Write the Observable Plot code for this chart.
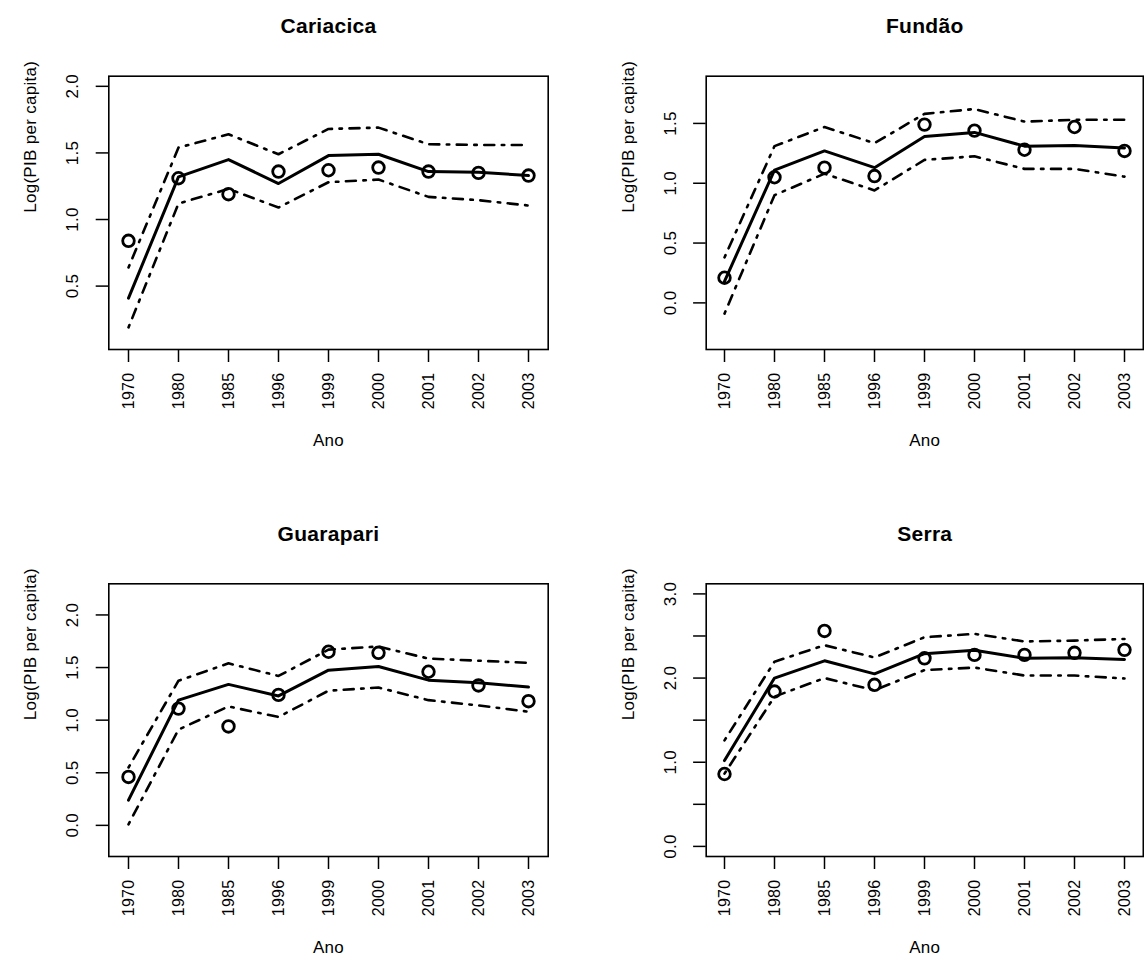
<!DOCTYPE html>
<html>
<head>
<meta charset="utf-8">
<script src="https://cdn.jsdelivr.net/npm/d3@7"></script>
<script src="https://cdn.jsdelivr.net/npm/@observablehq/plot@0.6"></script>
<style>
  html, body { margin: 0; padding: 0; background: white; }
  #chart { position: relative; width: 1144px; height: 966px; overflow: hidden; background: white; }
  #chart > svg { position: absolute; }
</style>
</head>
<body>
<div id="chart"></div>
<script>
// Survey years, drawn as equally spaced categories
const years = ["1970", "1980", "1985", "1996", "1999", "2000", "2001", "2002", "2003"];

// Cariacica: fitted values, upper/lower bands, observed log GDP per capita
const cariacicaFit   = [0.41, 1.32, 1.45, 1.27, 1.48, 1.49, 1.36, 1.355, 1.33];
const cariacicaUpper = [0.64, 1.54, 1.64, 1.49, 1.68, 1.69, 1.565, 1.56, 1.56];
const cariacicaLower = [0.19, 1.12, 1.23, 1.09, 1.28, 1.30, 1.17, 1.145, 1.105];
const cariacicaObs   = [0.84, 1.31, 1.19, 1.36, 1.37, 1.39, 1.36, 1.35, 1.33];

// Fundão
const fundaoFit   = [0.18, 1.11, 1.27, 1.13, 1.39, 1.425, 1.31, 1.315, 1.295];
const fundaoUpper = [0.38, 1.31, 1.47, 1.335, 1.58, 1.62, 1.515, 1.53, 1.53];
const fundaoLower = [-0.09, 0.90, 1.08, 0.94, 1.195, 1.225, 1.12, 1.12, 1.055];
const fundaoObs   = [0.21, 1.05, 1.13, 1.06, 1.49, 1.44, 1.28, 1.47, 1.27];

// Guarapari
const guarapariFit   = [0.24, 1.19, 1.34, 1.23, 1.475, 1.51, 1.38, 1.355, 1.315];
const guarapariUpper = [0.55, 1.375, 1.54, 1.42, 1.67, 1.70, 1.585, 1.565, 1.545];
const guarapariLower = [0.01, 0.91, 1.13, 1.03, 1.28, 1.31, 1.19, 1.14, 1.08];
const guarapariObs   = [0.46, 1.11, 0.94, 1.24, 1.65, 1.64, 1.46, 1.33, 1.18];

// Serra
const serraFit   = [1.02, 2.00, 2.205, 2.05, 2.29, 2.33, 2.235, 2.24, 2.22];
const serraUpper = [1.26, 2.195, 2.39, 2.245, 2.485, 2.525, 2.435, 2.445, 2.465];
const serraLower = [0.865, 1.78, 2.00, 1.855, 2.095, 2.125, 2.03, 2.03, 1.995];
const serraObs   = [0.86, 1.84, 2.56, 1.92, 2.235, 2.275, 2.275, 2.30, 2.335];

// Per-panel y limits, tick values and labelled tick values
const cariacicaYlim = [0.1, 2.0],     cariacicaTicks = [0.5, 1.0, 1.5, 2.0],  cariacicaLabels = [0.5, 1.0, 1.5, 2.0];
const fundaoYlim    = [-0.305, 1.81], fundaoTicks    = [0.0, 0.5, 1.0, 1.5],  fundaoLabels    = [0.0, 0.5, 1.0, 1.5];
const guarapariYlim = [-0.2, 2.2],    guarapariTicks = [0.0, 0.5, 1.0, 1.5, 2.0], guarapariLabels = [0.0, 0.5, 1.0, 1.5, 2.0];
const serraYlim     = [0.0, 3.0],     serraTicks     = [0.0, 0.5, 1.0, 1.5, 2.0, 2.5, 3.0], serraLabels = [0.0, 1.0, 2.0, 3.0];

const font = "'Liberation Sans', Arial, Helvetica, sans-serif";
const dotdash = "2.5,7.5,10,7.5";

function panel({title, fit, upper, lower, obs, ylim, ticks, labels, left, top, margins}) {
  const rows = years.map((year, i) => ({year, fit: fit[i], upper: upper[i], lower: lower[i], obs: obs[i]}));
  const ext = 0.04 * (ylim[1] - ylim[0]);
  const svg = Plot.plot({
    width: 572,
    height: 483,
    ...margins,
    style: {fontFamily: font, fontSize: "16px", background: "transparent", color: "black", overflow: "visible", letterSpacing: "0.3px"},
    x: {type: "point", domain: years, padding: 0.32},
    y: {domain: [ylim[0] - ext, ylim[1] + ext]},
    marks: [
      Plot.frame({stroke: "black", strokeWidth: 1.6}),
      Plot.axisX({
        ticks: years, tickSize: 13, tickPadding: 10, tickRotate: -90,
        textAnchor: "end", lineAnchor: "middle",
        strokeWidth: 1.5, fontSize: 16, label: null
      }),
      // tick marks on the y axis; their labels are set along the axis below
      Plot.axisY({ticks, tickSize: 12.6, tickFormat: () => "", strokeWidth: 1.5, label: null}),
      Plot.text(labels, {
        y: d => d, text: d => d.toFixed(1), frameAnchor: "left", dx: -36,
        rotate: -90, textAnchor: "middle", lineAnchor: "middle", fontSize: 17
      }),
      Plot.line(rows, {x: "year", y: "upper", stroke: "black", strokeWidth: 2.6, strokeDasharray: dotdash}),
      Plot.line(rows, {x: "year", y: "lower", stroke: "black", strokeWidth: 2.6, strokeDasharray: dotdash}),
      Plot.line(rows, {x: "year", y: "fit", stroke: "black", strokeWidth: 3}),
      Plot.dot(rows, {x: "year", y: "obs", r: 5.8, stroke: "black", strokeWidth: 2.8, fill: "none"}),
      Plot.text([title], {frameAnchor: "top", dy: -50, lineAnchor: "middle", fontWeight: "bold", fontSize: 21}),
      Plot.text(["Ano"], {frameAnchor: "bottom", dy: 91, lineAnchor: "middle", fontSize: 17}),
      Plot.text(["Log(PIB per capita)"], {frameAnchor: "left", dx: -78, rotate: -90, lineAnchor: "middle", fontSize: 17})
    ]
  });
  svg.style.left = left + "px";
  svg.style.top = top + "px";
  return svg;
}

const chart = document.getElementById("chart");
const topMargins = (ml, mr) => ({marginLeft: ml, marginRight: mr, marginTop: 75.7, marginBottom: 134});
const bottomMargins = (ml, mr) => ({marginLeft: ml, marginRight: mr, marginTop: 100.3, marginBottom: 110});

chart.append(panel({title: "Cariacica", fit: cariacicaFit, upper: cariacicaUpper, lower: cariacicaLower, obs: cariacicaObs,
  ylim: cariacicaYlim, ticks: cariacicaTicks, labels: cariacicaLabels, left: 0, top: 0, margins: topMargins(108.3, 24.3)}));
chart.append(panel({title: "Fundão", fit: fundaoFit, upper: fundaoUpper, lower: fundaoLower, obs: fundaoObs,
  ylim: fundaoYlim, ticks: fundaoTicks, labels: fundaoLabels, left: 572, top: 0, margins: topMargins(133.7, 1.2)}));
chart.append(panel({title: "Guarapari", fit: guarapariFit, upper: guarapariUpper, lower: guarapariLower, obs: guarapariObs,
  ylim: guarapariYlim, ticks: guarapariTicks, labels: guarapariLabels, left: 0, top: 483, margins: bottomMargins(108.3, 24.3)}));
chart.append(panel({title: "Serra", fit: serraFit, upper: serraUpper, lower: serraLower, obs: serraObs,
  ylim: serraYlim, ticks: serraTicks, labels: serraLabels, left: 572, top: 483, margins: bottomMargins(133.7, 1.2)}));
</script>
</body>
</html>
